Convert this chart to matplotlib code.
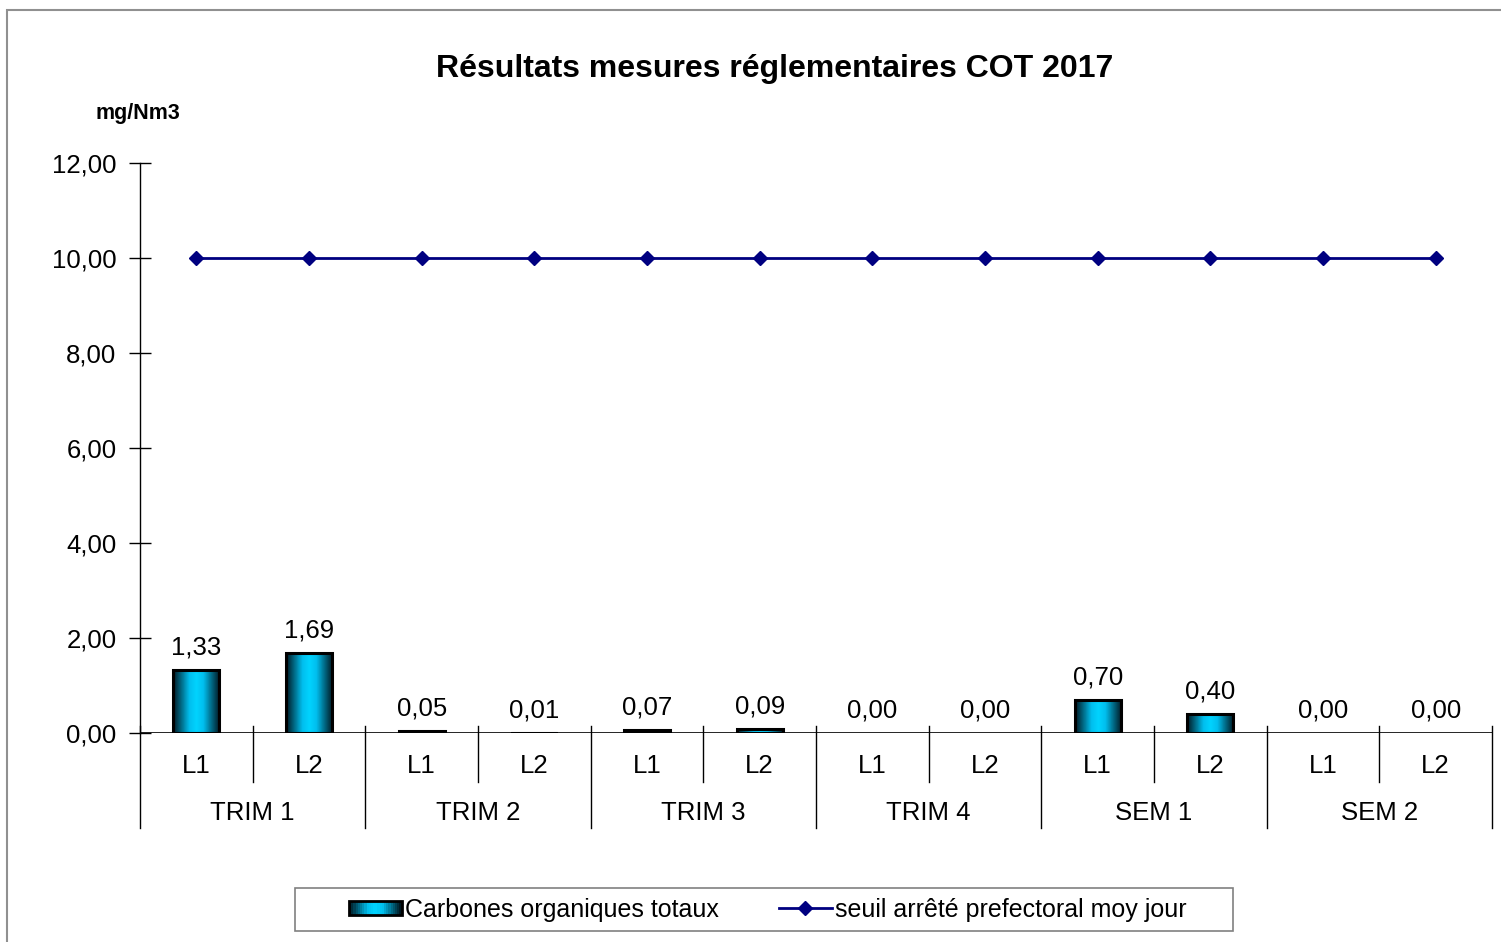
import numpy as np
import matplotlib
matplotlib.use("Agg")
import matplotlib.pyplot as plt
from matplotlib.colors import LinearSegmentedColormap
from matplotlib.patches import Rectangle
from matplotlib.lines import Line2D
from matplotlib.legend_handler import HandlerBase

plt.rcParams["font.family"] = ["Liberation Sans", "DejaVu Sans"]

groups = ["TRIM 1", "TRIM 2", "TRIM 3", "TRIM 4", "SEM 1", "SEM 2"]
lines = ["L1", "L2"]
cot = [1.33, 1.69, 0.05, 0.01, 0.07, 0.09, 0.00, 0.00, 0.70, 0.40, 0.00, 0.00]
seuil = [10.0] * 12
yticks = [0, 2, 4, 6, 8, 10, 12]

cmap = LinearSegmentedColormap.from_list(
    "bar", [(0, "#001822"), (0.35, "#00bfee"), (0.5, "#00d4ff"), (0.65, "#00bfee"), (1, "#001822")])

FS = 18.5

fig = plt.figure(figsize=(15.01, 9.42), dpi=100)
fig.patches.append(Rectangle((7 / 1501, -0.05), 1.2, 1.05 - 10 / 942, transform=fig.transFigure,
                             fill=False, edgecolor="#909090", lw=1.5))
ax = fig.add_axes([140 / 1501, 1 - 733 / 942, 1352 / 1501, 570 / 942])

n = len(cot)
x = np.arange(n)
w = 0.41
grad = np.linspace(0, 1, 64).reshape(1, -1)
for xi, v in zip(x, cot):
    if v > 0:
        ax.imshow(grad, cmap=cmap, extent=(xi - w / 2, xi + w / 2, 0, v), aspect="auto",
                  zorder=2, origin="lower")
        ax.add_patch(Rectangle((xi - w / 2, 0), w, v, fill=False, edgecolor="black", lw=2.2, zorder=3))
    ax.text(xi, v + 0.22, f"{v:.2f}".replace(".", ","), ha="center", va="bottom", fontsize=FS)

ax.plot(x, seuil, color="#000080", lw=2, marker="D", markersize=7, zorder=4)

ax.set_xlim(-0.5, n - 0.5)
ax.set_ylim(0, 12)
ax.set_yticks(yticks)
ax.set_yticklabels([f"{t:.2f}".replace(".", ",") for t in yticks], fontsize=FS)
ax.tick_params(axis="y", direction="inout", length=16, width=1, pad=9)
ax.set_xticks([])
for s in ["top", "right", "bottom"]:
    ax.spines[s].set_visible(False)
ax.spines["left"].set_linewidth(1)
ax.axhline(0, color="black", lw=1.2, zorder=5)

tr = ax.get_xaxis_transform()
for i in range(n):
    ax.text(x[i], -0.058, lines[i % 2], transform=tr, ha="center", va="center", fontsize=FS)
for g, name in enumerate(groups):
    ax.text(2 * g + 0.5, -0.14, name, transform=tr, ha="center", va="center", fontsize=FS)
for b in np.arange(-0.5, n, 1.0):
    k = int(b + 0.5)
    bottom = -0.167 if k % 2 == 0 else -0.086
    ax.add_line(Line2D([b, b], [0.012, bottom], transform=tr, color="black", lw=1, clip_on=False))

fig.text(775 / 1501, 1 - 69 / 942, "Résultats mesures réglementaires COT 2017", ha="center",
         va="center", fontsize=23, fontweight="bold")
fig.text(138 / 1501, 1 - 113 / 942, "mg/Nm3", ha="center", va="center", fontsize=15.5, fontweight="bold")


class GradHandler(HandlerBase):
    def create_artists(self, legend, orig, xd, yd, width, height, fontsize, trans):
        arts = []
        k = 24
        for j in range(k):
            arts.append(Rectangle((xd + width * j / k, yd + height * 0.1), width / k, height * 0.8,
                                  facecolor=cmap(j / (k - 1)), edgecolor="none", transform=trans))
        arts.append(Rectangle((xd, yd + height * 0.1), width, height * 0.8, fill=False,
                              edgecolor="black", lw=2, transform=trans))
        return arts


# legend box drawn by hand, the legend's own padding is too tight on the sides
fig.patches.append(Rectangle((295 / 1501, 1 - 931 / 942), 938 / 1501, 43 / 942, transform=fig.transFigure,
                             fill=False, edgecolor="#808080", lw=1.2))
bar_h = Rectangle((0, 0), 1, 1)
line_h = Line2D([], [], color="#000080", lw=2, marker="D", markersize=7)
leg = fig.legend([bar_h, line_h], ["Carbones organiques totaux", "seuil arrêté prefectoral moy jour"],
                 handler_map={Rectangle: GradHandler()}, loc="center", bbox_to_anchor=(768 / 1501, 1 - 910 / 942),
                 ncol=2, fontsize=18, frameon=False,
                 handlelength=2.1, handletextpad=0.15, columnspacing=2.4, borderpad=0.35,
                 borderaxespad=0)

fig.savefig("out.png", dpi=100)
